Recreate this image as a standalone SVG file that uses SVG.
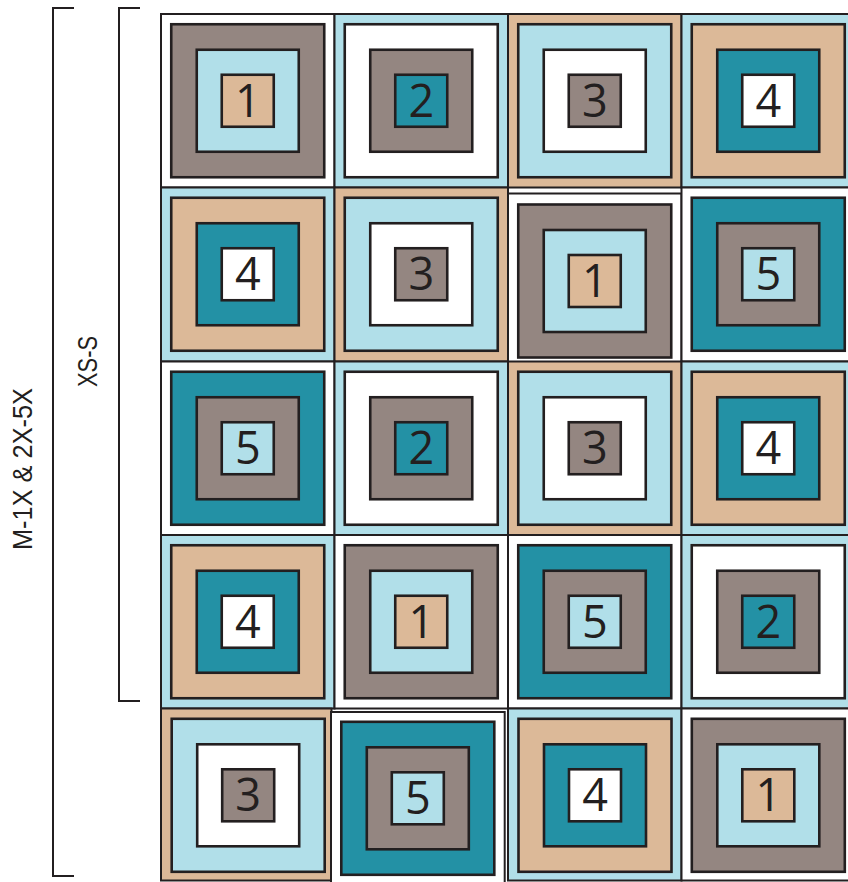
<svg xmlns="http://www.w3.org/2000/svg" width="848" height="882" viewBox="0 0 848 882">
<style>
.o{stroke:#231f20;stroke-width:2}
.r{stroke:#231f20;stroke-width:2.6}
.w{fill:#ffffff}
.g{fill:#948681}
.b{fill:#b1dfe9}
.k{fill:#dcb998}
.t{fill:#2391a5}
.n{font-family:"Open Sans","Liberation Sans",sans-serif;font-size:45px;fill:#231f20;text-anchor:middle}
.lbl{font-family:"Liberation Sans",Arial,sans-serif;font-size:28px;fill:#231f20;text-anchor:middle}
.br{fill:none;stroke:#231f20;stroke-width:2}
</style>
<rect x="0" y="0" width="848" height="882" fill="#ffffff"/>
<g id="brackets">
<path class="br" d="M74,8 H53 V876 H74"/>
<path class="br" d="M140,8 H119 V701 H140"/>
</g>
<g id="labels">
<text class="lbl" transform="translate(32,469) rotate(-90)" textLength="162" lengthAdjust="spacingAndGlyphs">M-1X &amp; 2X-5X</text>
<text class="lbl" transform="translate(97,361.5) rotate(-90)" textLength="51" lengthAdjust="spacingAndGlyphs">XS-S</text>
</g>
<!-- Row 0 -->
<g id="b00"><rect class="o w" x="161" y="14" width="173.5" height="173.5"/><rect class="r g" x="171.25" y="24.25" width="153" height="153"/><rect class="r b" x="196.75" y="49.75" width="102" height="102"/><rect class="r k" x="221.75" y="74.75" width="52" height="52"/><text class="n" x="247.75" y="116.75">1</text></g>
<g id="b01"><rect class="o b" x="334.5" y="14" width="173.5" height="173.5"/><rect class="r w" x="344.75" y="24.25" width="153" height="153"/><rect class="r g" x="370.25" y="49.75" width="102" height="102"/><rect class="r t" x="395.25" y="74.75" width="52" height="52"/><text class="n" x="421.25" y="116.75">2</text></g>
<g id="b02"><rect class="o k" x="508" y="14" width="173.5" height="173.5"/><rect class="r b" x="518.25" y="24.25" width="153" height="153"/><rect class="r w" x="543.75" y="49.75" width="102" height="102"/><rect class="r g" x="568.75" y="74.75" width="52" height="52"/><text class="n" x="594.75" y="116.75">3</text></g>
<g id="b03"><rect class="o b" x="681.5" y="14" width="173.5" height="173.5"/><rect class="r k" x="691.75" y="24.25" width="153" height="153"/><rect class="r t" x="717.25" y="49.75" width="102" height="102"/><rect class="r w" x="742.25" y="74.75" width="52" height="52"/><text class="n" x="768.25" y="116.75">4</text></g>
<!-- Row 1 -->
<g id="b10"><rect class="o b" x="161" y="187.5" width="173.5" height="174"/><rect class="r k" x="171.25" y="197.75" width="153" height="153"/><rect class="r t" x="196.75" y="223.25" width="102" height="102"/><rect class="r w" x="221.75" y="248.25" width="52" height="52"/><text class="n" x="247.75" y="290.25">4</text></g>
<g id="b11"><rect class="o k" x="334.5" y="187.5" width="173.5" height="174"/><rect class="r b" x="344.75" y="197.75" width="153" height="153"/><rect class="r w" x="370.25" y="223.25" width="102" height="102"/><rect class="r g" x="395.25" y="248.25" width="52" height="52"/><text class="n" x="421.25" y="290.25">3</text></g>
<g id="b12"><rect class="o w" x="508" y="193.5" width="173.5" height="173.5"/><rect class="r g" x="518.25" y="204.5" width="153" height="153"/><rect class="r b" x="543.75" y="230" width="102" height="102"/><rect class="r k" x="568.75" y="255" width="52" height="52"/><text class="n" x="594.75" y="297">1</text></g>
<g id="b13"><rect class="o w" x="681.5" y="187.5" width="173.5" height="174"/><rect class="r t" x="691.75" y="197.75" width="153" height="153"/><rect class="r g" x="717.25" y="223.25" width="102" height="102"/><rect class="r b" x="742.25" y="248.25" width="52" height="52"/><text class="n" x="768.25" y="290.25">5</text></g>
<!-- Row 2 -->
<g id="b20"><rect class="o w" x="161" y="361.5" width="173.5" height="173.5"/><rect class="r t" x="171.25" y="371.75" width="153" height="153"/><rect class="r g" x="196.75" y="397.25" width="102" height="102"/><rect class="r b" x="221.75" y="422.25" width="52" height="52"/><text class="n" x="247.75" y="464.25">5</text></g>
<g id="b21"><rect class="o b" x="334.5" y="361.5" width="173.5" height="173.5"/><rect class="r w" x="344.75" y="371.75" width="153" height="153"/><rect class="r g" x="370.25" y="397.25" width="102" height="102"/><rect class="r t" x="395.25" y="422.25" width="52" height="52"/><text class="n" x="421.25" y="464.25">2</text></g>
<g id="b22"><rect class="o k" x="508" y="361.5" width="173.5" height="173.5"/><rect class="r b" x="518.25" y="371.75" width="153" height="153"/><rect class="r w" x="543.75" y="397.25" width="102" height="102"/><rect class="r g" x="568.75" y="422.25" width="52" height="52"/><text class="n" x="594.75" y="464.25">3</text></g>
<g id="b23"><rect class="o b" x="681.5" y="361.5" width="173.5" height="173.5"/><rect class="r k" x="691.75" y="371.75" width="153" height="153"/><rect class="r t" x="717.25" y="397.25" width="102" height="102"/><rect class="r w" x="742.25" y="422.25" width="52" height="52"/><text class="n" x="768.25" y="464.25">4</text></g>
<!-- Row 3 -->
<g id="b30"><rect class="o b" x="161" y="535" width="173.5" height="173.5"/><rect class="r k" x="171.25" y="545.25" width="153" height="153"/><rect class="r t" x="196.75" y="570.75" width="102" height="102"/><rect class="r w" x="221.75" y="595.75" width="52" height="52"/><text class="n" x="247.75" y="637.75">4</text></g>
<g id="b31"><rect class="o w" x="334.5" y="535" width="173.5" height="173.5"/><rect class="r g" x="344.75" y="545.25" width="153" height="153"/><rect class="r b" x="370.25" y="570.75" width="102" height="102"/><rect class="r k" x="395.25" y="595.75" width="52" height="52"/><text class="n" x="421.25" y="637.75">1</text></g>
<g id="b32"><rect class="o w" x="508" y="535" width="173.5" height="173.5"/><rect class="r t" x="518.25" y="545.25" width="153" height="153"/><rect class="r g" x="543.75" y="570.75" width="102" height="102"/><rect class="r b" x="568.75" y="595.75" width="52" height="52"/><text class="n" x="594.75" y="637.75">5</text></g>
<g id="b33"><rect class="o b" x="681.5" y="535" width="173.5" height="173.5"/><rect class="r w" x="691.75" y="545.25" width="153" height="153"/><rect class="r g" x="717.25" y="570.75" width="102" height="102"/><rect class="r t" x="742.25" y="595.75" width="52" height="52"/><text class="n" x="768.25" y="637.75">2</text></g>
<!-- Row 4 -->
<g id="b40"><rect class="o k" x="161" y="708.5" width="170.5" height="172"/><rect class="r b" x="171.7" y="718.8" width="153" height="153"/><rect class="r w" x="197.2" y="744.3" width="102" height="102"/><rect class="r g" x="222.2" y="769.3" width="52" height="52"/><text class="n" x="248.2" y="811.3">3</text></g>
<g id="b41"><rect class="o w" x="331" y="712" width="173.7" height="173"/><rect class="r t" x="341.3" y="721.8" width="153" height="153"/><rect class="r g" x="366.8" y="747.3" width="102" height="102"/><rect class="r b" x="391.8" y="772.3" width="52" height="52"/><text class="n" x="417.8" y="814.3">5</text></g>
<g id="b42"><rect class="o b" x="508" y="708.5" width="173.5" height="172"/><rect class="r k" x="518.5" y="718.8" width="153" height="153"/><rect class="r t" x="544" y="744.3" width="102" height="102"/><rect class="r w" x="569" y="769.3" width="52" height="52"/><text class="n" x="595" y="811.3">4</text></g>
<g id="b43"><rect class="o w" x="681.5" y="708.5" width="173.5" height="172"/><rect class="r g" x="691.8" y="718.8" width="153" height="153"/><rect class="r b" x="717.3" y="744.3" width="102" height="102"/><rect class="r k" x="742.3" y="769.3" width="52" height="52"/><text class="n" x="768.3" y="811.3">1</text></g>
</svg>
